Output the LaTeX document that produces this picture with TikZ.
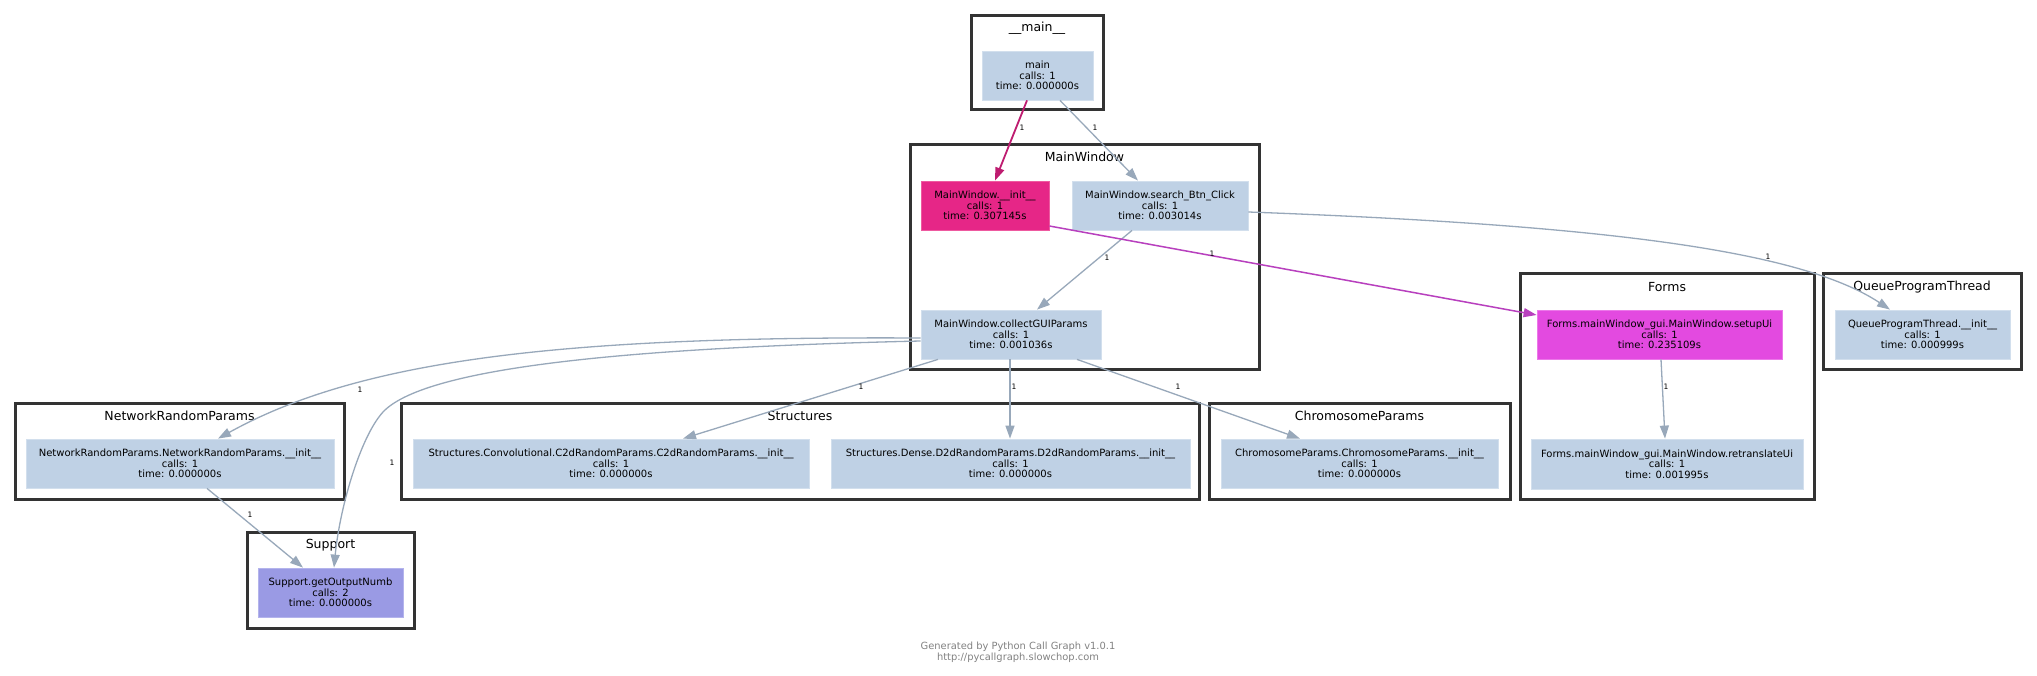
\documentclass[tikz,border=0pt]{standalone}
\usepackage{fontspec}
\setmainfont{DejaVu Sans}
\usetikzlibrary{arrows.meta,calc}
\definecolor{nodeblue}{RGB}{191,209,229}
\definecolor{nodeborder}{RGB}{210,223,237}
\definecolor{hotpink}{RGB}{230,38,135}
\definecolor{hotpinkb}{RGB}{238,90,160}
\definecolor{magnode}{RGB}{227,74,224}
\definecolor{magnodeb}{RGB}{236,120,233}
\definecolor{purplenode}{RGB}{154,154,228}
\definecolor{purplenodeb}{RGB}{180,180,236}
\definecolor{edgegrey}{RGB}{152,168,186}
\definecolor{edgepink}{RGB}{190,28,112}
\definecolor{edgemag}{RGB}{184,64,190}
\definecolor{clusterline}{RGB}{51,51,51}
\definecolor{footergrey}{RGB}{130,130,130}
\begin{document}
\begin{tikzpicture}[x=1pt,y=-1pt,
  fn/.style={rectangle, inner sep=0pt, align=center,
    font=\fontsize{10}{10.5}\selectfont, minimum height=49pt,
    fill=nodeblue, draw=nodeborder, line width=0.8pt},
  hot/.style={fill=hotpink, draw=hotpinkb},
  mag/.style={fill=magnode, draw=magnodeb},
  purp/.style={fill=purplenode, draw=purplenodeb},
  cluster/.style={rectangle, draw=clusterline, line width=3pt, inner sep=0pt},
  ctitle/.style={font=\fontsize{12.5}{14}\selectfont, inner sep=0pt},
  call/.style={draw=edgegrey, line width=1.3pt, -{Triangle[length=13pt,width=9pt]}},
  callpink/.style={call, draw=edgepink, line width=1.8pt},
  callmag/.style={call, draw=edgemag, line width=1.5pt},
  elabel/.style={font=\fontsize{7.5}{8}\selectfont, inner sep=0pt},
  footer/.style={font=\fontsize{9.9}{11}\selectfont, text=footergrey, align=center, inner sep=0pt}
]
\fill[white] (0,0) rectangle (2037,676);
\useasboundingbox (0,0) rectangle (2037,676);

% clusters
\node[cluster, minimum width=132pt, minimum height=94pt] (cmain) at (1037,63) {};
\node[ctitle] (tmain) at (1037,28) {\_\_main\_\_};
\node[cluster, minimum width=349pt, minimum height=224pt] (cmw) at (1084.5,257) {};
\node[ctitle] (tmw) at (1084.5,157) {MainWindow};
\node[cluster, minimum width=294pt, minimum height=225pt] (cforms) at (1667,386.5) {};
\node[ctitle] (tforms) at (1667,287) {Forms};
\node[cluster, minimum width=198pt, minimum height=95pt] (cqpt) at (1922,321.5) {};
\node[ctitle] (tqpt) at (1922,287) {QueueProgramThread};
\node[cluster, minimum width=329pt, minimum height=96pt] (cnrp) at (179.5,451) {};
\node[ctitle] (tnrp) at (179.5,416) {NetworkRandomParams};
\node[cluster, minimum width=798pt, minimum height=96pt] (cstruct) at (800,451) {};
\node[ctitle] (tstruct) at (800,416) {Structures};
\node[cluster, minimum width=301pt, minimum height=96pt] (cchromo) at (1359.5,451) {};
\node[ctitle] (tchromo) at (1359.5,416) {ChromosomeParams};
\node[cluster, minimum width=167pt, minimum height=96pt] (csupport) at (330.5,580) {};
\node[ctitle] (tsupport) at (330.5,545) {Support};

% function nodes
\node[fn, minimum width=111pt] (main) at (1037.5,75.5) {main\\calls: 1\\time: 0.000000s};
\node[fn, hot, minimum width=128pt] (init) at (985,205.5) {MainWindow.\_\_init\_\_\\calls: 1\\time: 0.307145s};
\node[fn, minimum width=176pt] (search) at (1160,205.5) {MainWindow.search\_Btn\_Click\\calls: 1\\time: 0.003014s};
\node[fn, minimum width=180pt] (collect) at (1011,334.5) {MainWindow.collectGUIParams\\calls: 1\\time: 0.001036s};
\node[fn, mag, minimum width=245pt] (setup) at (1659.5,334.5) {Forms.mainWindow\_gui.MainWindow.setupUi\\calls: 1\\time: 0.235109s};
\node[fn, minimum width=272pt, minimum height=50pt] (retrans) at (1667,464) {Forms.mainWindow\_gui.MainWindow.retranslateUi\\calls: 1\\time: 0.001995s};
\node[fn, minimum width=175pt] (qpt) at (1922.5,334.5) {QueueProgramThread.\_\_init\_\_\\calls: 1\\time: 0.000999s};
\node[fn, minimum width=308pt] (nrp) at (180,463.5) {NetworkRandomParams.NetworkRandomParams.\_\_init\_\_\\calls: 1\\time: 0.000000s};
\node[fn, minimum width=396pt] (c2d) at (611,463.5) {Structures.Convolutional.C2dRandomParams.C2dRandomParams.\_\_init\_\_\\calls: 1\\time: 0.000000s};
\node[fn, minimum width=359pt] (d2d) at (1010.5,463.5) {Structures.Dense.D2dRandomParams.D2dRandomParams.\_\_init\_\_\\calls: 1\\time: 0.000000s};
\node[fn, minimum width=277pt] (chromo) at (1359.5,463.5) {ChromosomeParams.ChromosomeParams.\_\_init\_\_\\calls: 1\\time: 0.000000s};
\node[fn, purp, minimum width=145pt] (support) at (330.5,592.5) {Support.getOutputNumb\\calls: 2\\time: 0.000000s};

% edges
\draw[callpink] ($(main.south)+(-10.5,0)$) -- ($(init.north)+(10,0)$);
\node[elabel] (l1) at (1022,128) {1};
\draw[call] ($(main.south)+(22.5,0)$) -- ($(search.north)+(-22,0)$);
\node[elabel] (l2) at (1095,128) {1};
\draw[call] ($(search.south)+(-28,0)$) -- ($(collect.north)+(26,0)$);
\node[elabel] (l3) at (1107,258) {1};
\draw[callmag] ($(init.east)+(0,20.5)$) -- ($(setup.west)+(0,-19.5)$);
\node[elabel] (l4) at (1212,254) {1};
\draw[call] ($(search.east)+(0,6.5)$) .. controls (1600,225) and (1800,250) .. ($(qpt.north)+(-32.5,0)$);
\node[elabel] (l5) at (1768,257) {1};
\draw[call] ($(collect.west)+(0,3.5)$) .. controls (560,336) and (360,360) .. ($(nrp.north)+(38,0)$);
\node[elabel] (l6) at (360,390) {1};
\draw[call] ($(collect.west)+(0,6.5)$) .. controls (620,348) and (430,368) .. (385,410) .. controls (362,432) and (340,505) .. ($(support.north)+(3.5,0)$);
\node[elabel] (l7) at (392,463) {1};
\draw[call] ($(nrp.south)+(27,0)$) -- ($(support.north)+(-27.5,0)$);
\node[elabel] (l8) at (250,515) {1};
\draw[call] ($(collect.south)+(-73,0)$) -- ($(c2d.north)+(72,0)$);
\node[elabel] (l9) at (861,387) {1};
\draw[call] ($(collect.south)+(-1,0)$) -- ($(d2d.north)+(-0.5,0)$);
\node[elabel] (l10) at (1014,387) {1};
\draw[call] ($(collect.south)+(66,0)$) -- ($(chromo.north)+(-59.5,0)$);
\node[elabel] (l11) at (1178,387) {1};
\draw[call] ($(setup.south)+(1.5,0)$) -- ($(retrans.north)+(-2,0)$);
\node[elabel] (l12) at (1666,387) {1};

% footer
\node[footer] (foot) at (1018,652.5) {Generated by Python Call Graph v1.0.1\\http://pycallgraph.slowchop.com};
\end{tikzpicture}
\end{document}
